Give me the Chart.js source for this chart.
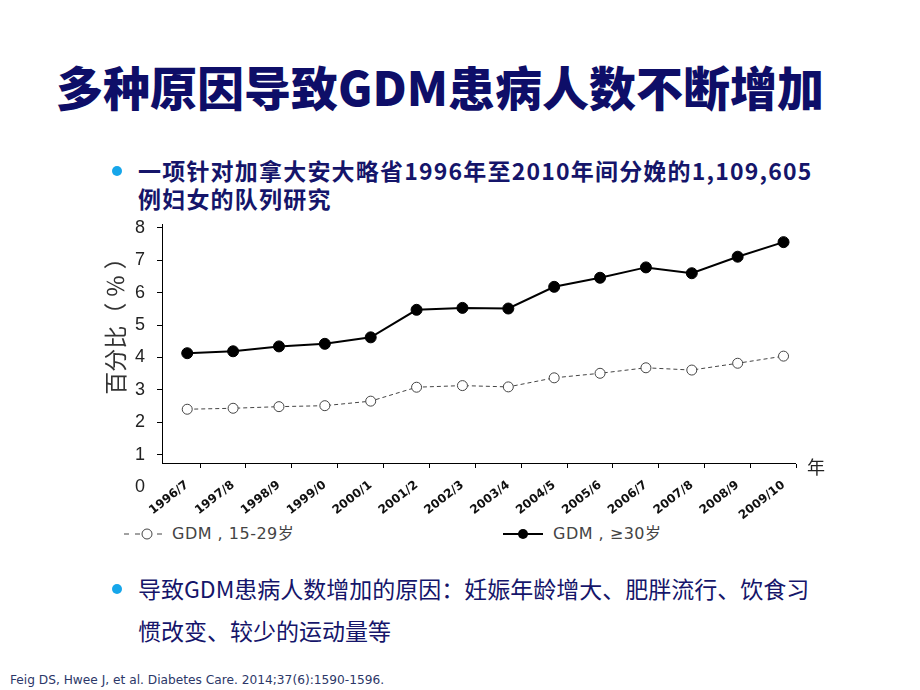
<!DOCTYPE html>
<html lang="zh-CN">
  <head>
    <meta charset="UTF-8" />
    <title>GDM</title>
    <script src="https://cdn.jsdelivr.net/npm/chart.js"></script>
    <style>
      body {
        margin: 0;
        width: 920px;
        height: 690px;
        background: #fff;
        position: relative;
        overflow: hidden;
        font-family: "Noto Sans CJK SC", sans-serif;
      }
      .titulo {
        position: absolute;
        left: 56px;
        top: 53px;
        margin: 0;
        font-size: 47px;
        font-weight: 900;
        color: #0e0e68;
        white-space: nowrap;
        line-height: 66px;
      }
      .bullet {
        position: absolute;
        left: 138px;
        margin: 0;
        color: #15156a;
        white-space: nowrap;
      }
      .bullet::before {
        content: "";
        position: absolute;
        left: -26px;
        width: 10px;
        height: 10px;
        border-radius: 50%;
        background: #16a6ea;
      }
      .b1 {
        top: 156px;
        font-size: 23px;
        font-weight: 700;
        line-height: 28px;
        letter-spacing: 1.2px;
      }
      .b1::before { top: 10px; }
      .b2 {
        top: 567px;
        font-size: 23px;
        line-height: 42px;
      }
      .b2::before { top: 17px; }
      #wrap {
        position: absolute;
        left: 98px;
        top: 200px;
        width: 822px;
        height: 320px;
      }
      .legenda {
        position: absolute;
        top: 524px;
        font-family: "DejaVu Sans", "Noto Sans CJK SC", sans-serif;
        font-size: 16px;
        letter-spacing: 0.5px;
        color: #444;
        line-height: 20px;
        white-space: nowrap;
      }
      .legenda svg { vertical-align: -2px; margin-right: 6px; }
      .fonte {
        position: absolute;
        left: 10px;
        top: 673px;
        font-family: "DejaVu Sans", sans-serif;
        font-size: 12.2px;
        color: #2c3768;
        white-space: nowrap;
      }
    </style>
  </head>
  <body>
    <p class="titulo">多种原因导致GDM患病人数不断增加</p>
    <p class="bullet b1">一项针对加拿大安大略省1996年至2010年间分娩的1,109,605<br />例妇女的队列研究</p>

    <div id="wrap"><canvas id="graficoGDM"></canvas></div>

    <div class="legenda" style="left: 122px">
      <svg width="44" height="14">
        <line x1="2" y1="7" x2="42" y2="7" stroke="#444" stroke-width="1" stroke-dasharray="5,6" />
        <circle cx="25" cy="7" r="5" fill="#fff" stroke="#444" stroke-width="1" />
      </svg>GDM , 15-29岁
    </div>
    <div class="legenda" style="left: 501px">
      <svg width="46" height="14">
        <line x1="2" y1="7" x2="42" y2="7" stroke="#000" stroke-width="2" />
        <circle cx="22" cy="7" r="5" fill="#000" />
      </svg>GDM , ≥30岁
    </div>

    <p class="bullet b2">导致GDM患病人数增加的原因：妊娠年龄增大、肥胖流行、饮食习<br />惯改变、较少的运动量等</p>

    <div class="fonte">Feig DS, Hwee J, et al. Diabetes Care. 2014;37(6):1590-1596.</div>
  </body>
</html>

<script>
  // anos (eixo x)
  const anos = [
    "1996/7", "1997/8", "1998/9", "1999/0", "2000/1", "2001/2", "2002/3",
    "2003/4", "2004/5", "2005/6", "2006/7", "2007/8", "2008/9", "2009/10",
  ];
  // GDM, 15-29岁 (%)
  const gdmJovens = [2.40, 2.43, 2.48, 2.51, 2.65, 3.08, 3.13, 3.09, 3.37, 3.51, 3.68, 3.61, 3.82, 4.04];
  // GDM, >=30岁 (%)
  const gdmMais30 = [4.13, 4.19, 4.34, 4.42, 4.62, 5.47, 5.53, 5.51, 6.18, 6.46, 6.78, 6.60, 7.11, 7.56];
  // rótulos do eixo y
  const ticksY = [1, 2, 3, 4, 5, 6, 7, 8];
  const rotuloZero = 0;

  const fonteEixo = { family: "Liberation Sans", size: 18 };

  const extras = {
    id: "extras",
    afterDraw(chart) {
      const ctx = chart.ctx;
      const y = chart.scales.y;
      const area = chart.chartArea;
      ctx.save();
      ctx.fillStyle = "#222";
      ctx.font = "18px 'Liberation Sans'";
      ctx.textAlign = "right";
      ctx.textBaseline = "middle";
      ctx.fillText(String(rotuloZero), y.right - 17, y.getPixelForValue(rotuloZero));
      ctx.font = "18px 'Noto Sans CJK SC'";
      ctx.textAlign = "left";
      ctx.fillText("年", area.right + 12, area.bottom + 4);
      ctx.restore();
    },
  };

  const data = {
    datasets: [
      {
        label: "GDM , 15-29岁",
        data: gdmJovens.map((v, i) => ({ x: i, y: v })),
        borderColor: "#444",
        borderWidth: 1,
        borderDash: [4, 3],
        pointRadius: 5,
        pointBackgroundColor: "#fff",
        pointBorderColor: "#444",
        pointBorderWidth: 1,
        xAxisID: "x",
      },
      {
        label: "GDM , ≥30岁",
        data: gdmMais30.map((v, i) => ({ x: i, y: v })),
        borderColor: "#000",
        borderWidth: 2,
        pointRadius: 5.5,
        pointBackgroundColor: "#000",
        pointBorderColor: "#000",
        pointBorderWidth: 1,
        xAxisID: "x",
      },
    ],
  };

  const config = {
    type: "line",
    data: data,
    plugins: [extras],
    options: {
      responsive: true,
      maintainAspectRatio: false,
      animation: false,
      layout: { padding: { top: 24, right: 125, bottom: 0, left: 0 } },
      plugins: {
        legend: { display: false },
        tooltip: { enabled: false },
      },
      scales: {
        xt: {
          type: "linear",
          position: "bottom",
          weight: 0,
          min: -0.55,
          max: 13.25,
          afterBuildTicks: (s) => {
            s.ticks = anos.map((a, i) => ({ value: i + 0.28 }));
          },
          afterFit: (s) => {
            s.height = 5;
          },
          ticks: { display: false },
          grid: { drawOnChartArea: false, drawTicks: true, tickLength: 5, color: "#000" },
          border: { display: true, color: "#000", width: 1 },
        },
        x: {
          type: "linear",
          position: "bottom",
          weight: 1,
          min: -0.55,
          max: 13.25,
          afterBuildTicks: (s) => {
            s.ticks = anos.map((a, i) => ({ value: i }));
          },
          afterFit: (s) => {
            s.height = 52;
          },
          ticks: {
            autoSkip: false,
            minRotation: 38,
            maxRotation: 38,
            padding: 2,
            color: "#111",
            font: { family: "DejaVu Sans", size: 12, weight: "bold" },
            callback: (v) => anos[v],
          },
          grid: { display: false },
          border: { display: false },
        },
        y: {
          min: 0.74,
          max: 8.12,
          afterBuildTicks: (s) => {
            s.ticks = ticksY.map((t) => ({ value: t }));
          },
          afterFit: (s) => {
            s.width = 64;
          },
          ticks: { color: "#222", font: fonteEixo, padding: 12 },
          grid: { drawOnChartArea: false, drawTicks: true, tickLength: 5, color: "#000" },
          border: { display: true, color: "#000", width: 1 },
          title: {
            display: true,
            text: "　　百分比（ ％ ）",
            color: "#333",
            font: { family: "Noto Sans CJK SC", size: 23 },
            padding: { top: 3, bottom: 0 },
          },
        },
      },
    },
  };

  new Chart(document.getElementById("graficoGDM"), config);
</script>
